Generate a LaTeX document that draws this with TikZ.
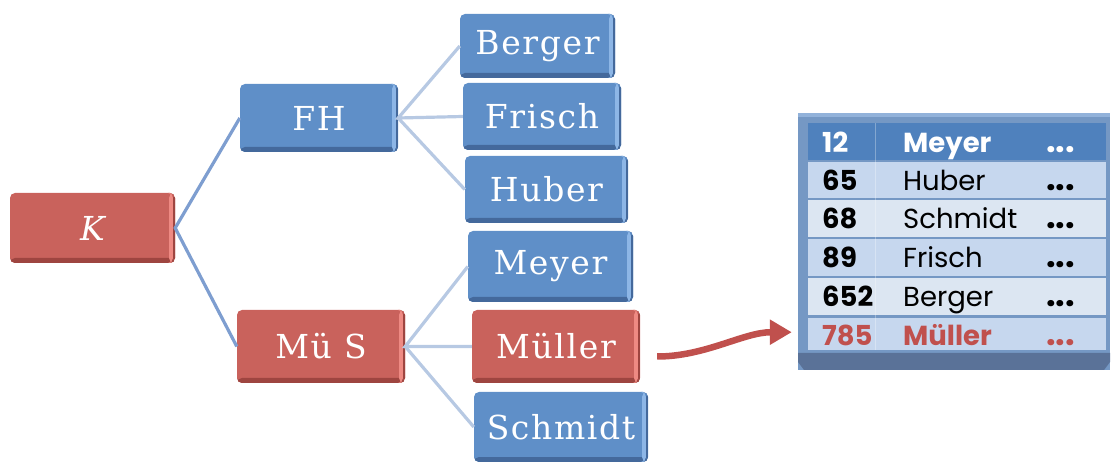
\documentclass[tikz,border=0pt]{standalone}
\usepackage{fontspec}
\usetikzlibrary{arrows.meta}
\newfontfamily\boxfont[LetterSpace=5]{DejaVu Serif}
\newfontfamily\tabfont{Poppins}
\definecolor{bmain}{HTML}{5F8FC8}
\definecolor{bdark}{HTML}{44699C}
\definecolor{blight}{HTML}{8DB6E6}
\definecolor{rmain}{HTML}{C9625C}
\definecolor{rdark}{HTML}{9E4540}
\definecolor{rlight}{HTML}{EE8A83}
\definecolor{lineA}{HTML}{7E9ED0}
\definecolor{lineB}{HTML}{B7C9E3}
\definecolor{arrowred}{HTML}{C0504D}
\definecolor{frame}{HTML}{7598C4}
\definecolor{frametop}{HTML}{92B2DA}
\definecolor{framebot}{HTML}{5A7298}
\definecolor{rowhead}{HTML}{4F81BD}
\definecolor{rowA}{HTML}{C6D7EE}
\definecolor{rowB}{HTML}{DCE6F2}
\definecolor{txtred}{HTML}{C0504D}
\tikzset{
  tbox/.style n args={3}{rectangle, rounded corners=5pt, inner sep=0pt,
    fill=#1, text=white,
    font=\boxfont\fontsize{33}{36}\selectfont,
    path picture={
      \fill[#2] ([yshift=5pt]path picture bounding box.south west) rectangle (path picture bounding box.south east);
      \fill[#3] ([xshift=-6pt]path picture bounding box.north east) rectangle ([xshift=-2pt]path picture bounding box.south east);
      \fill[#2] ([xshift=-2pt]path picture bounding box.north east) rectangle (path picture bounding box.south east);
    }},
  bluebox/.style={tbox={bmain}{bdark}{blight}},
  redbox/.style={tbox={rmain}{rdark}{rlight}},
  mainline/.style={draw=lineA, line width=3.2pt},
  subline/.style={draw=lineB, line width=3.2pt},
  tabtxt/.style={anchor=base west, inner sep=0pt, font=\tabfont\fontsize{27.5}{30}\selectfont},
  tabnum/.style={tabtxt, font=\tabfont\bfseries\fontsize{27.5}{30}\selectfont},
  tabdots/.style={tabtxt, font=\tabfont\bfseries\fontsize{34}{36}\selectfont},
}
\begin{document}
\begin{tikzpicture}[x=1pt,y=-1pt]
\useasboundingbox (0,0) rectangle (1112,462);
% tree boxes
\node[redbox, minimum width=165pt, minimum height=70pt] (K) at (92.5,228) {\itshape K};
\node[bluebox, minimum width=158pt, minimum height=68pt] (FH) at (319,118) {FH};
\node[redbox, minimum width=168pt, minimum height=73pt] (MS) at (321,346.5) {Mü S};
\node[bluebox, minimum width=155pt, minimum height=64pt] (berger) at (537.5,46) {Berger};
\node[bluebox, minimum width=158pt, minimum height=67pt] (frisch) at (542,116.5) {Frisch};
\node[bluebox, minimum width=163pt, minimum height=67pt] (huber) at (546.5,189.5) {Huber};
\node[bluebox, minimum width=165pt, minimum height=71pt] (meyer) at (550.5,266.5) {Meyer};
\node[redbox, minimum width=168pt, minimum height=73pt] (mueller) at (556,346.5) {Müller};
\node[bluebox, minimum width=174pt, minimum height=70pt] (schmidt) at (561,427) {Schmidt};
% connectors
\draw[mainline] (FH.west) -- (K.east) -- (MS.west);
\draw[subline] (berger.west) -- (FH.east) -- (frisch.west);
\draw[subline] (FH.east) -- (huber.west);
\draw[subline] (meyer.west) -- (MS.east) -- (mueller.west);
\draw[subline] (MS.east) -- (schmidt.west);
% table
\node[rectangle, fill=frame, minimum width=312pt, minimum height=257pt, inner sep=0pt] (tbl) at (954,241.5) {};
\fill[frametop] (798,113) rectangle (1110,117);
\fill[framebot] (798,353) -- (1110,353) -- (1110,362) -- (1104,370) -- (804,370) -- (798,362) -- cycle;
\fill[rowhead] (808,123) rectangle (1106,160);
\fill[rowA] (808,162) rectangle (1106,198);
\fill[rowB] (808,200) rectangle (1106,237);
\fill[rowA] (808,239) rectangle (1106,276);
\fill[rowB] (808,278) rectangle (1106,315);
\fill[rowA] (808,318) rectangle (1106,350);
\draw[white, opacity=0.3, line width=1pt] (875,123) -- (875,350);
% table texts
\node[tabnum, text=white] (n1) at (822,153) {12};
\node[tabnum, text=white] (m1) at (903,153) {Meyer};
\node[tabdots, text=white] (d1) at (1046,153) {...};
\node[tabnum] (n2) at (822,191) {65};
\node[tabtxt] (m2) at (903,191) {Huber};
\node[tabdots] (d2) at (1046,191) {...};
\node[tabnum] (n3) at (822,229) {68};
\node[tabtxt] (m3) at (903,229) {Schmidt};
\node[tabdots] (d3) at (1046,229) {...};
\node[tabnum] (n4) at (822,268) {89};
\node[tabtxt] (m4) at (903,268) {Frisch};
\node[tabdots] (d4) at (1046,268) {...};
\node[tabnum] (n5) at (822,307) {652};
\node[tabtxt] (m5) at (903,307) {Berger};
\node[tabdots] (d5) at (1046,307) {...};
\node[tabnum, text=txtred] (n6) at (822,346) {785};
\node[tabnum, text=txtred] (m6) at (903,346) {Müller};
\node[tabdots, text=txtred] (d6) at (1046,346) {...};
% arrow
\draw[arrowred, line width=6.5pt, -{Triangle[length=22pt,width=24pt]}]
  ([xshift=17pt,yshift=-10pt]mueller.east) to[out=0,in=180,looseness=0.9] ([xshift=-6pt,yshift=38pt]tbl.south west);
\end{tikzpicture}
\end{document}
